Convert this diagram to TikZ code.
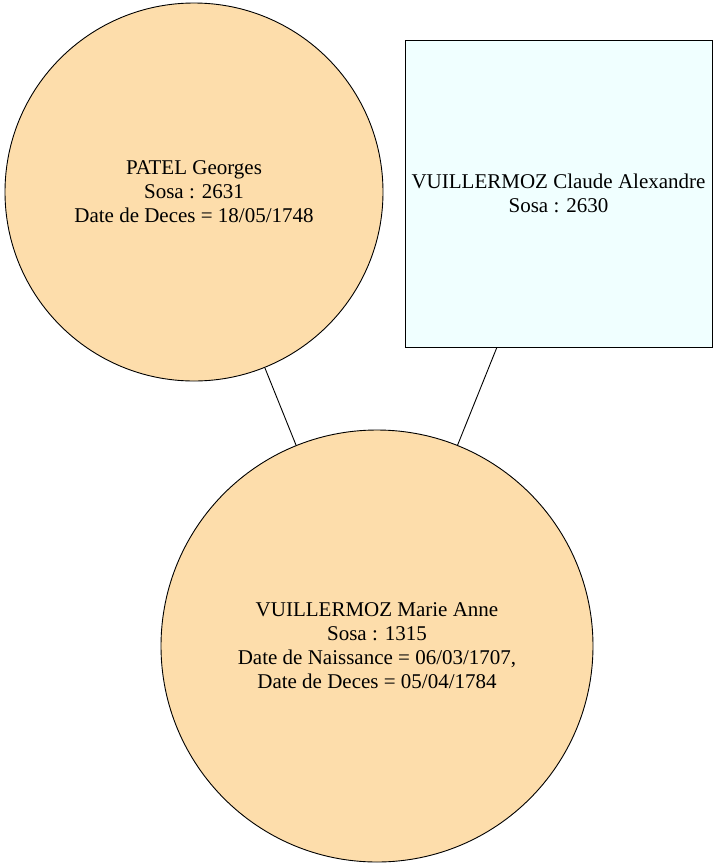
\documentclass[tikz,border=0pt]{standalone}
\usepackage{fontspec}
\setmainfont{Liberation Serif}
\begin{document}
\begin{tikzpicture}[x=1pt, y=-1pt, line width=.9pt,
  pers/.style={circle, draw, fill=navajo, inner sep=0pt, align=center, font=\fontsize{21}{24}\selectfont},
  conj/.style={rectangle, draw, fill=azurefill, inner sep=0pt, minimum width=307pt, minimum height=307pt, align=center, font=\fontsize{21}{24}\selectfont}]
\definecolor{navajo}{HTML}{FDDDAB}
\definecolor{azurefill}{HTML}{F0FFFF}
\useasboundingbox (0,0) rectangle (718,868);
\node[pers, minimum size=378pt] (patel) at (194,192) {PATEL Georges\\Sosa : 2631\\Date de Deces = 18/05/1748};
\node[conj] (claude) at (558.5,193.5) {VUILLERMOZ Claude Alexandre\\Sosa : 2630\\[-24pt]\mbox{}};
\node[pers, minimum size=432pt] (marie) at (377,646) {VUILLERMOZ Marie Anne\\Sosa : 1315\\Date de Naissance = 06/03/1707,\\Date de Deces = 05/04/1784};
\draw (patel)--(marie);
\draw (claude)--(marie);
\end{tikzpicture}
\end{document}
